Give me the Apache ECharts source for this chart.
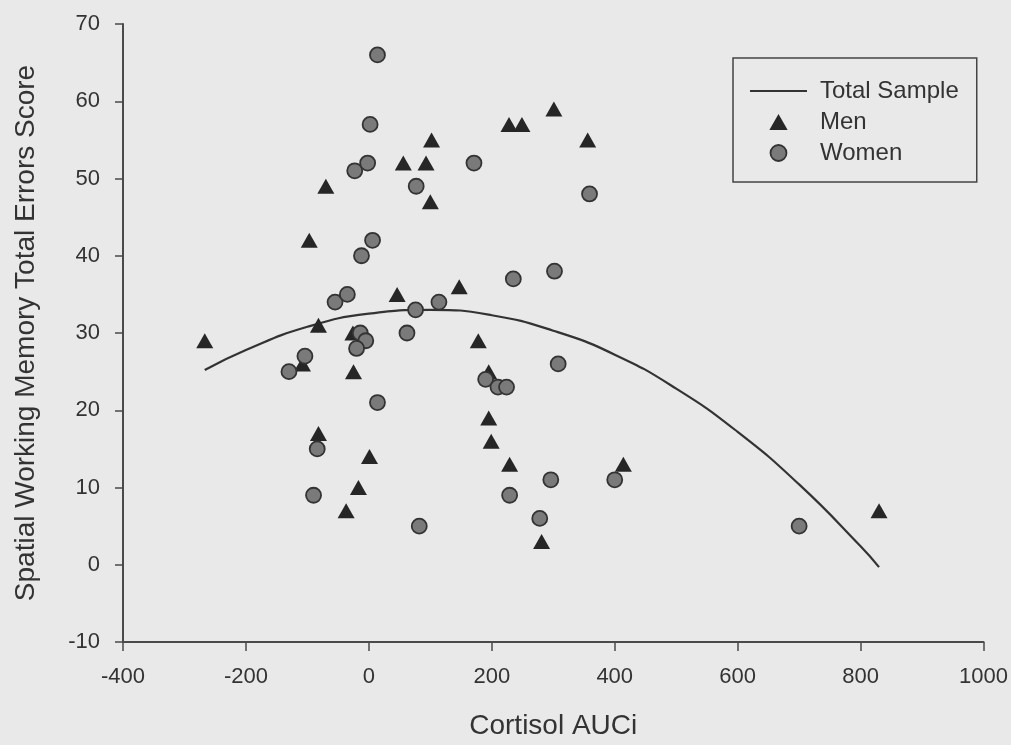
<!DOCTYPE html>
<html>
<head>
<meta charset="utf-8">
<script src="https://cdn.jsdelivr.net/npm/echarts@6/dist/echarts.min.js"></script>
<style>
    html, body {margin: 0; padding: 0; background: #e9e9e9;}
    #chart {width: 1011px; height: 745px;}
</style>
</head>
<body>
<div id="chart"></div>
<script>
// men: [cortisol AUCi, errors score]
var menData = [
    [-267, 29], [-97, 42], [-70, 49], [-82, 31], [-82, 17], [-108, 26],
    [-26, 30], [-25, 25], [1, 14], [-17, 10], [-37, 7], [46, 35],
    [56, 52], [93, 52], [102, 55], [100, 47], [147, 36], [178, 29],
    [195, 25], [195, 19], [199, 16], [229, 13], [228, 57], [249, 57],
    [301, 59], [356, 55], [281, 3], [414, 13], [830, 7]
];
var womenData = [
    [14, 66], [2, 57], [-23, 51], [-2, 52], [77, 49], [6, 42], [-12, 40],
    [-55, 34], [-35, 35], [76, 33], [114, 34], [171, 52], [359, 48],
    [235, 37], [302, 38], [-14, 30], [-5, 29], [-20, 28], [62, 30],
    [-104, 27], [-130, 25], [14, 21], [-84, 15], [-90, 9], [82, 5],
    [308, 26], [190, 24], [210, 23], [224, 23], [296, 11], [400, 11],
    [229, 9], [278, 6], [700, 5]
];
// fitted curve for total sample
var curveX = [-267, -200, -100, 0, 100, 200, 300, 400, 500, 600, 700, 800, 830];
var curveY = [25.2, 27.8, 30.8, 32.5, 33.0, 32.3, 30.3, 27.2, 22.8, 17.2, 10.4, 2.4, -0.3];

var font = "'Liberation Sans', Arial, sans-serif";
var ink = '#333';

var myChart = echarts.init(document.getElementById('chart'));

var curve = [];
for (var i = 0; i < curveX.length; i++) {
    curve.push([curveX[i], curveY[i]]);
}

var option = {
    backgroundColor: '#e9e9e9',
    animation: false,
    textStyle: {fontFamily: font, color: ink},
    grid: {left: 123, right: 26, top: 24, bottom: 100},
    legend: {
        orient: 'vertical',
        left: 733,
        top: 58,
        padding: [21, 18, 17, 17],
        itemGap: 7,
        itemWidth: 57,
        itemHeight: 16,
        symbolKeepAspect: true,
        borderColor: '#444',
        borderWidth: 1.5,
        textStyle: {fontSize: 24, color: ink, fontFamily: font, padding: [0, 0, 0, 8]},
        data: [
            {name: 'Total Sample', icon: 'path://M0,0 L57,0 L57,2 L0,2 Z', itemStyle: {color: '#333', borderWidth: 0}},
            {name: 'Men', icon: 'path://M8,0 L16,14 L0,14 Z', itemStyle: {color: '#262626', borderWidth: 0}},
            {name: 'Women', icon: 'circle', itemStyle: {color: '#7a7a7a', borderColor: '#333', borderWidth: 1.8}}
        ]
    },
    xAxis: {
        type: 'value',
        min: -400,
        max: 1000,
        interval: 200,
        name: 'Cortisol AUCi',
        nameLocation: 'middle',
        nameGap: 70,
        nameTextStyle: {fontSize: 28, color: ink, fontFamily: font},
        splitLine: {show: false},
        axisLine: {onZero: false, lineStyle: {color: '#4a4a4a', width: 2}},
        axisTick: {show: true, length: 9, lineStyle: {color: '#4a4a4a', width: 1.5}},
        axisLabel: {
            fontSize: 22, color: ink, margin: 24, fontFamily: font,
            formatter: function (v) {
                return String(v);
            }
        }
    },
    yAxis: {
        type: 'value',
        min: -10,
        max: 70,
        interval: 10,
        name: 'Spatial Working Memory Total Errors Score',
        nameLocation: 'middle',
        nameRotate: 90,
        nameGap: 83,
        nameTextStyle: {fontSize: 28, color: ink, fontFamily: font},
        splitLine: {show: false},
        axisLine: {show: true, onZero: false, lineStyle: {color: '#4a4a4a', width: 2}},
        axisTick: {show: true, length: 8, lineStyle: {color: '#4a4a4a', width: 1.5}},
        axisLabel: {fontSize: 22, color: ink, margin: 23, fontFamily: font}
    },
    series: [
        {
            name: 'Total Sample',
            type: 'line',
            data: curve,
            smooth: true,
            symbol: 'none',
            color: '#333',
            lineStyle: {color: '#333', width: 2.2},
            z: 2
        },
        {
            name: 'Men',
            type: 'scatter',
            data: menData,
            symbol: 'triangle',
            symbolSize: [17, 15],
            itemStyle: {color: '#262626', opacity: 1},
            z: 3
        },
        {
            name: 'Women',
            type: 'scatter',
            data: womenData,
            symbol: 'circle',
            symbolSize: 15,
            itemStyle: {color: '#7a7a7a', borderColor: '#333', borderWidth: 1.8, opacity: 1},
            z: 4
        }
    ]
};

myChart.setOption(option);
</script>
</body>
</html>
